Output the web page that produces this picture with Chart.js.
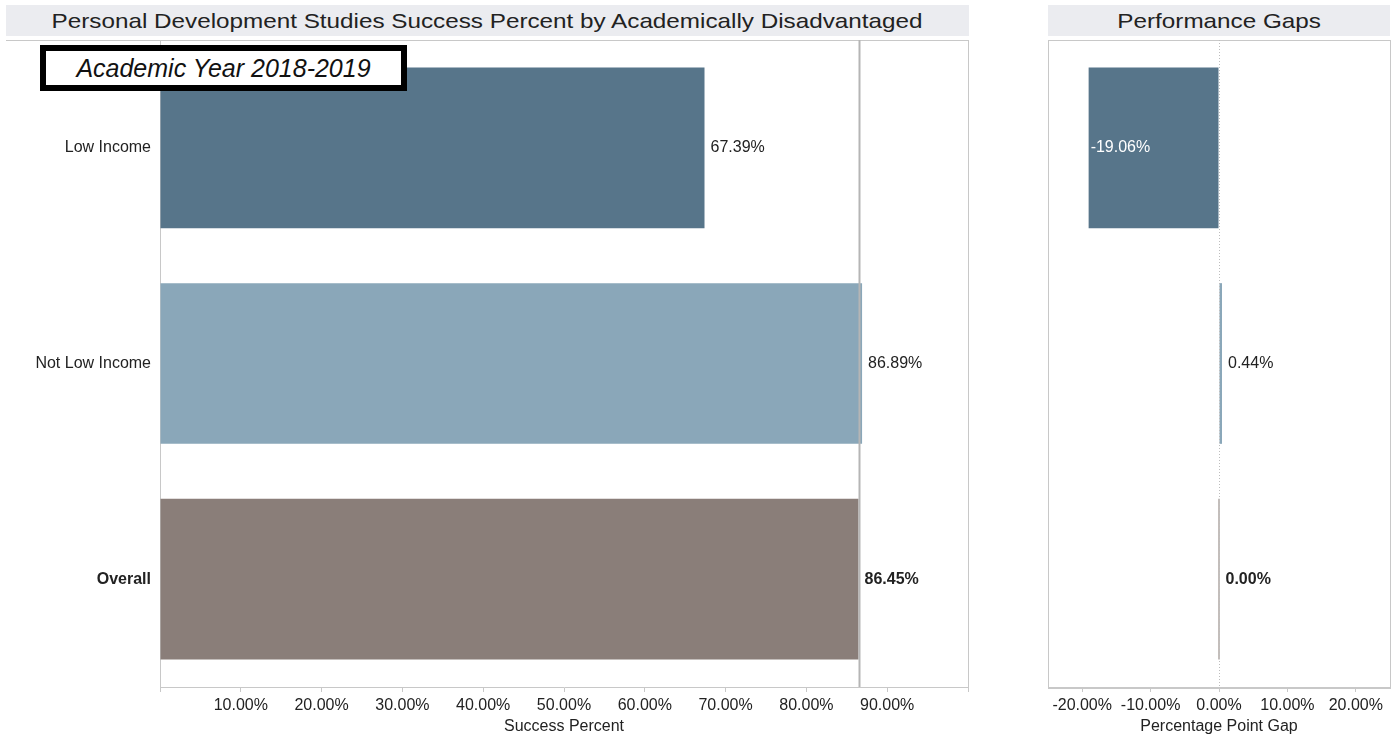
<!DOCTYPE html>
<html>
<head>
<meta charset="utf-8">
<script src="https://cdn.jsdelivr.net/npm/chart.js@4"></script>
<style>
    body { margin: 0; background: #fff; width: 1394px; height: 736px; position: relative; overflow: hidden; font-family: "Liberation Sans", Arial, sans-serif; }
    .band { position: absolute; top: 5px; height: 31px; background: #ebecf0; color: #222; font-size: 21px; line-height: 32px; text-align: center; }
    .band span { display: inline-block; transform: scaleX(1.155); }
    .frame { position: absolute; border-color: #c8c8c8; border-style: solid; border-width: 0; }
    .yearBox { position: absolute; left: 40px; top: 45px; width: 355px; height: 34px; border: 6px solid #000; background: #fff; font-style: italic; font-size: 25px; line-height: 34px; text-align: center; color: #111; z-index: 5; }
    canvas { position: absolute; top: 0; }
</style>
</head>
<body>
<div class="band" style="left:6px;width:963px;"><span>Personal Development Studies Success Percent by Academically Disadvantaged</span></div>
<div class="band" style="left:1048px;width:342px;"><span>Performance Gaps</span></div>
<div class="frame" style="left:6px;top:40px;width:962px;height:647px;border-top-width:1px;border-right-width:1px;"></div>
<div class="frame" style="left:1048px;top:40px;width:341px;height:647px;border-width:1px;"></div>
<canvas id="successChart" width="980" height="736" style="left:0"></canvas>
<canvas id="gapChart" width="354" height="736" style="left:1040px"></canvas>
<div class="yearBox">Academic Year 2018-2019</div>
<script>
document.addEventListener('DOMContentLoaded', () => {
    const categories = ['Low Income', 'Not Low Income', 'Overall'];
    const successPct = [67.39, 86.89, 86.45];
    const gapPts = [-19.06, 0.44, 0.00];
    const successTicks = [0, 10, 20, 30, 40, 50, 60, 70, 80, 90, 100];
    const gapTicks = [-20, -10, 0, 10, 20];
    const barColors = ['#57758a', '#8aa7b9', '#8a7e79'];

    const FONT = '"Liberation Sans", Arial, sans-serif';
    const textColor = '#222';
    const lineColor = '#c8c8c8';
    const overallIdx = categories.indexOf('Overall');

    const pct = v => v.toFixed(2) + '%';

    // Werte neben den Balken
    const valueLabels = {
        id: 'valueLabels',
        afterDatasetsDraw(chart, args, opts) {
            const ctx = chart.ctx;
            const meta = chart.getDatasetMeta(0);
            const values = chart.data.datasets[0].data;
            ctx.save();
            ctx.textBaseline = 'middle';
            ctx.textAlign = 'left';
            meta.data.forEach((bar, i) => {
                const v = values[i];
                const bold = i === overallIdx;
                ctx.font = (bold ? 'bold ' : '') + opts.size + 'px ' + FONT;
                if (v < 0) {
                    ctx.fillStyle = '#fff';
                    ctx.fillText(pct(v), bar.x + 2, bar.y);
                } else {
                    ctx.fillStyle = textColor;
                    ctx.fillText(pct(v), Math.max(bar.x, bar.base) + opts.gap, bar.y);
                }
            });
            ctx.restore();
        }
    };

    // Referenzlinie (Overall) bzw. Nulllinie
    const refLine = {
        id: 'refLine',
        afterDatasetsDraw(chart, args, opts) {
            const { ctx, chartArea, scales } = chart;
            const x = Math.round(scales.x.getPixelForValue(opts.value)) + 0.5;
            ctx.save();
            ctx.strokeStyle = opts.color;
            ctx.lineWidth = opts.width;
            ctx.setLineDash(opts.dash || []);
            ctx.beginPath();
            ctx.moveTo(x, chartArea.top);
            ctx.lineTo(x, chartArea.bottom);
            ctx.stroke();
            ctx.restore();
        }
    };

    function makeConfig(values, range, tickValues, labelFn, title, padding) {
        return {
            type: 'bar',
            data: {
                labels: categories,
                datasets: [{
                    data: values,
                    backgroundColor: barColors,
                    categoryPercentage: 1,
                    barPercentage: 0.745,
                    minBarLength: 1
                }]
            },
            options: {
                indexAxis: 'y',
                responsive: false,
                animation: false,
                layout: { padding },
                plugins: { legend: { display: false }, tooltip: { enabled: false } },
                scales: {
                    x: {
                        type: 'linear',
                        min: range[0],
                        max: range[1],
                        afterFit: s => { s.height = 49; },
                        afterBuildTicks: s => { s.ticks = tickValues.map(v => ({ value: v })); },
                        grid: { display: true, drawOnChartArea: false, drawTicks: true, tickLength: 5, color: lineColor },
                        border: { display: true, color: lineColor },
                        ticks: {
                            color: textColor,
                            font: { family: FONT, size: 16 },
                            padding: 4,
                            maxRotation: 0,
                            autoSkip: false,
                            callback: labelFn
                        },
                        title: { display: true, text: title, color: textColor, font: { family: FONT, size: 16 }, padding: { top: 0, bottom: 0 } }
                    }
                }
            }
        };
    }

    const successCfg = makeConfig(successPct, [0, 100], successTicks,
        v => (v === 0 || v === 100) ? '' : pct(v), 'Success Percent', { top: 40, right: 12, left: 0, bottom: 0 });
    successCfg.options.scales.y = {
        afterFit: s => { s.width = 160; },
        grid: { display: false, drawTicks: false },
        border: { display: true, color: lineColor },
        ticks: {
            color: textColor,
            padding: 9,
            font: ctx => ({ family: FONT, size: 16, weight: ctx.index === overallIdx ? 'bold' : 'normal' })
        }
    };
    successCfg.options.plugins.valueLabels = { size: 16, gap: 6 };
    successCfg.options.plugins.refLine = { value: successPct[overallIdx], color: '#b5b5b5', width: 2 };
    successCfg.plugins = [valueLabels, refLine];

    const gapCfg = makeConfig(gapPts, [-25, 25], gapTicks,
        v => pct(v), 'Percentage Point Gap', { top: 40, right: 4, left: 8, bottom: 0 });
    gapCfg.options.scales.y = { display: false };
    gapCfg.options.plugins.valueLabels = { size: 16, gap: 6 };
    gapCfg.options.plugins.refLine = { value: 0, color: '#bdbdbd', width: 1, dash: [1, 2] };
    gapCfg.plugins = [valueLabels, refLine];

    new Chart(document.getElementById('successChart').getContext('2d'), successCfg);
    new Chart(document.getElementById('gapChart').getContext('2d'), gapCfg);
});
</script>
</body>
</html>
